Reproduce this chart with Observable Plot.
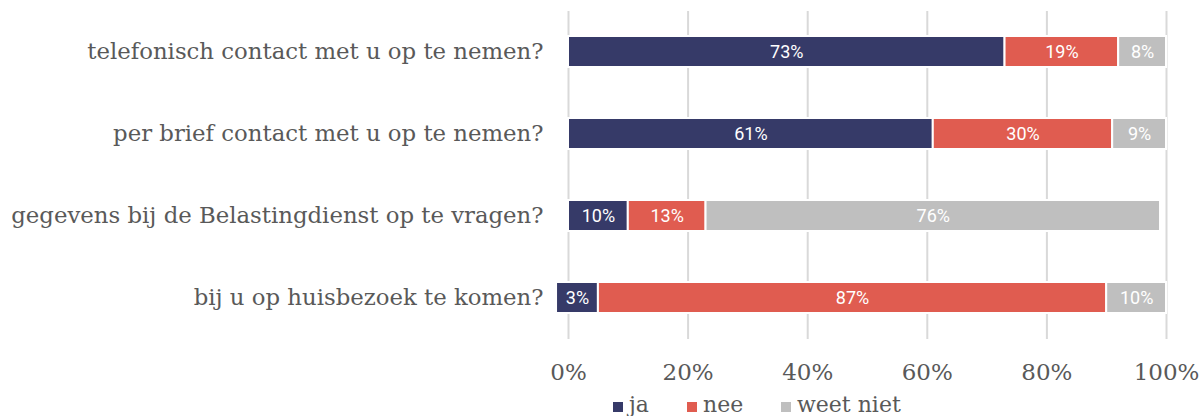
<!DOCTYPE html>
<html>
<head>
<meta charset="utf-8">
<script src="https://cdn.jsdelivr.net/npm/d3@7"></script>
<script src="https://cdn.jsdelivr.net/npm/@observablehq/plot@0.6"></script>
<style>
  html, body { margin: 0; padding: 0; background: #fff; overflow: hidden; }
  #wrap { position: relative; width: 1200px; height: 416px; }
  #legend { position: absolute; left: 0; top: 392px; width: 1200px; height: 30px;
    font-family: "DejaVu Serif", serif; font-size: 22px; color: #595959; }
  .item { position: absolute; top: 0; display: flex; align-items: center; gap: 6px; white-space: nowrap; }
  .sw { width: 10px; height: 10px; display: inline-block; margin-top: 5px; }
</style>
</head>
<body>
<div id="wrap">
  <div id="chart"></div>
  <div id="legend"></div>
</div>
<script>
const categories = [
  "telefonisch contact met u op te nemen?",
  "per brief contact met u op te nemen?",
  "gegevens bij de Belastingdienst op te vragen?",
  "bij u op huisbezoek te komen?"
];
const series = ["ja", "nee", "weet niet"];
const colors = ["#363a68", "#e05c50", "#bfbfbf"];
// segment widths as drawn (in % of the axis)
const jaValues = [73, 61, 10, 7];
const neeValues = [19, 30, 13, 85];
const weetNietValues = [8, 9, 76, 10];
// where each bar starts on the axis
const barStart = [0, 0, 0, -2];
// printed labels
const jaLabels = ["73%", "61%", "10%", "3%"];
const neeLabels = ["19%", "30%", "13%", "87%"];
const weetNietLabels = ["8%", "9%", "76%", "10%"];
const xTicks = [0, 20, 40, 60, 80, 100];

const rows = [];
categories.forEach((c, i) => {
  let x = barStart[i];
  const vals = [jaValues[i], neeValues[i], weetNietValues[i]];
  const labs = [jaLabels[i], neeLabels[i], weetNietLabels[i]];
  vals.forEach((v, j) => {
    rows.push({cat: c, series: series[j], x1: x, x2: x + v, label: labs[j]});
    x += v;
  });
});

const serif = "'DejaVu Serif', serif";
const plot = Plot.plot({
  width: 1200,
  height: 389,
  marginLeft: 568,
  marginRight: 34,
  marginTop: 11,
  marginBottom: 50,
  style: {fontFamily: serif, color: "#595959", background: "#fff"},
  x: {domain: [0, 100], ticks: xTicks, tickFormat: d => d + "%"},
  y: {domain: categories, paddingInner: 0.62, paddingOuter: 0.31},
  color: {domain: series, range: colors},
  marks: [
    Plot.ruleX(xTicks, {stroke: "#d9d9d9", strokeWidth: 2}),
    Plot.barX(rows, {y: "cat", x1: "x1", x2: "x2", fill: "series", stroke: "#fff", strokeWidth: 2}),
    Plot.text(rows, {y: "cat", x: d => (d.x1 + d.x2) / 2, text: "label", fill: "#fff",
      fontFamily: "Roboto, sans-serif", fontSize: 18, fontWeight: 400}),
    Plot.axisY({tickSize: 0, tickPadding: 25, fontSize: 22.8, label: null}),
    Plot.axisX({tickSize: 0, tickPadding: 24, fontSize: 23, label: null, ticks: xTicks, tickFormat: d => d + "%"})
  ]
});
document.getElementById("chart").appendChild(plot);

const legendX = [613, 687, 781];
const legend = document.getElementById("legend");
series.forEach((s, i) => {
  const it = document.createElement("div");
  it.className = "item";
  it.style.left = legendX[i] + "px";
  const sw = document.createElement("span");
  sw.className = "sw";
  sw.style.background = colors[i];
  const t = document.createElement("span");
  t.textContent = s;
  it.appendChild(sw); it.appendChild(t);
  legend.appendChild(it);
});
</script>
</body>
</html>
